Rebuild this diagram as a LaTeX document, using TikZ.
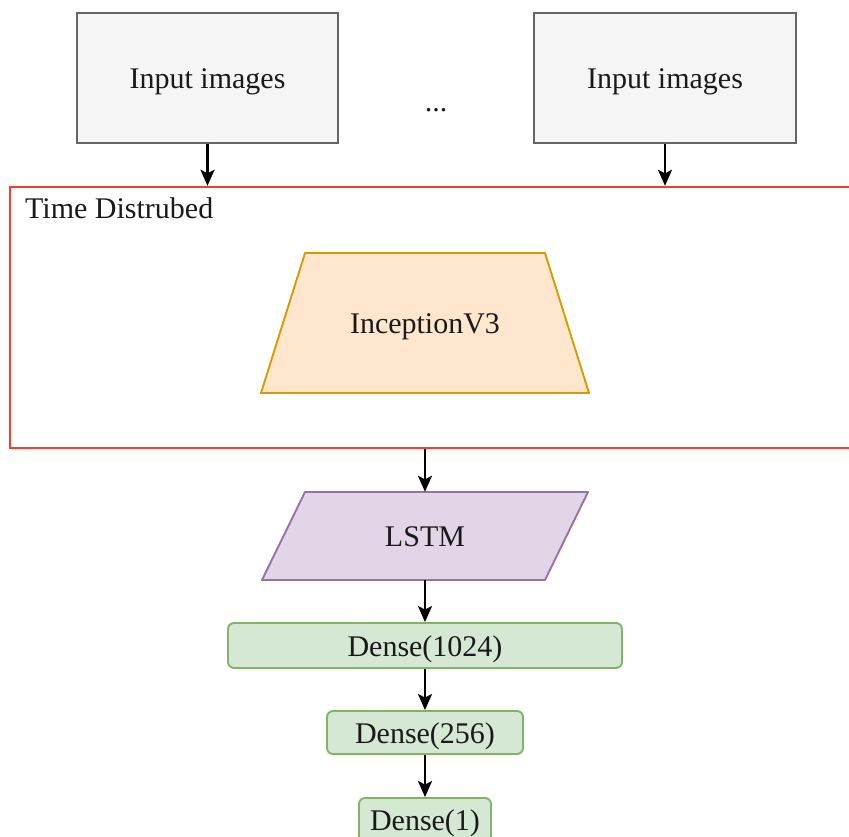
\documentclass[tikz,border=0pt]{standalone}
\usepackage{fontspec}
\setmainfont{Liberation Serif}
\usetikzlibrary{arrows.meta}
\definecolor{inFill}{HTML}{F5F5F5}
\definecolor{inDraw}{HTML}{666666}
\definecolor{tdDraw}{RGB}{250,60,40}
\definecolor{ocFill}{HTML}{FFE6CC}
\definecolor{ocDraw}{HTML}{D79B00}
\definecolor{puFill}{HTML}{E1D5E7}
\definecolor{puDraw}{HTML}{9673A6}
\definecolor{grFill}{HTML}{D5E8D4}
\definecolor{grDraw}{HTML}{82B366}
\definecolor{txt}{HTML}{1A1A1A}
\begin{document}
\begin{tikzpicture}[x=1pt,y=-1pt,
  every node/.style={font=\fontsize{30}{36}\selectfont, text=txt, inner sep=0pt, text height=23pt, text depth=2pt},
  inbox/.style={draw=inDraw, fill=inFill, line width=1.9pt, minimum height=130pt},
  densebox/.style={draw=grDraw, fill=grFill, line width=1.9pt, rounded corners=6pt},
  arr/.style={line width=2.2pt, -{Stealth[length=16pt,width=14pt,inset=3.5pt]}},
  hidden/.style={draw=none, fill=none}
]
\useasboundingbox (0,0) rectangle (849,836);
% input boxes
\node[inbox, minimum width=261pt] (in1) at (207.5,78) {Input images};
\node[inbox, minimum width=262pt] (in2) at (665,78) {Input images};
\node (dots) at (436,101) {...};
% time distributed frame
\node[draw=tdDraw, line width=2.4pt, minimum width=865pt, minimum height=261pt] (td) at (442.5,317.5) {};
\node[anchor=west] (tdlabel) at (25,208) {Time Distrubed};
% InceptionV3 trapezoid
\fill[ocFill] (305,253) -- (545,253) -- (589,393) -- (261,393) -- cycle;
\draw[ocDraw, line width=1.9pt, line join=round] (305,253) -- (545,253) -- (589,393) -- (261,393) -- cycle;
\node (incp) at (425,323) {InceptionV3};
% LSTM parallelogram
\fill[puFill] (305,492) -- (588,492) -- (545,580) -- (262,580) -- cycle;
\draw[puDraw, line width=1.9pt, line join=round] (305,492) -- (588,492) -- (545,580) -- (262,580) -- cycle;
\node[hidden, minimum width=200pt, minimum height=88pt] (lstm) at (425,536) {LSTM};
% dense layers
\node[densebox, minimum width=394pt, minimum height=45pt] (d1024) at (425,645.5) {Dense(1024)};
\node[densebox, minimum width=196pt, minimum height=43pt] (d256) at (425,732.5) {Dense(256)};
\node[densebox, minimum width=132pt, minimum height=44pt] (d1) at (425,820) {Dense(1)};
% connectors
\draw[arr] (in1.south) -- (in1.south |- td.north);
\draw[arr] (in2.south) -- (in2.south |- td.north);
\draw[arr] (lstm.north |- td.south) -- (lstm.north);
\draw[arr] (lstm.south) -- (d1024.north);
\draw[arr] (d1024.south) -- (d256.north);
\draw[arr] (d256.south) -- (d1.north);
\end{tikzpicture}
\end{document}
